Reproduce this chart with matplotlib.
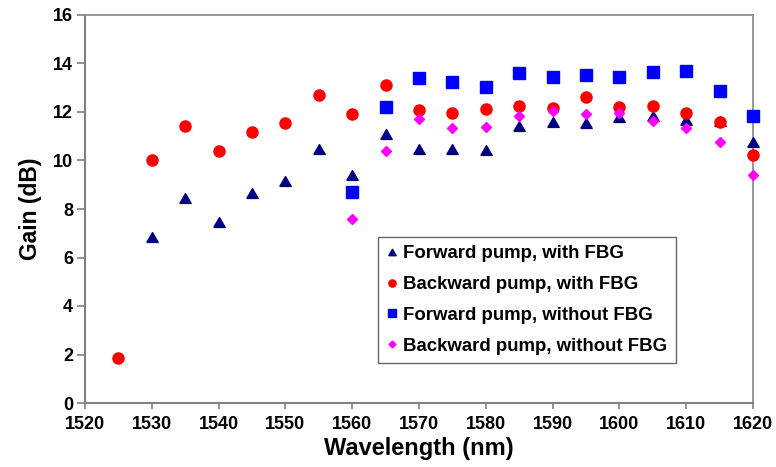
import matplotlib
matplotlib.use("Agg")
import matplotlib.pyplot as plt

plt.rcParams['font.family'] = ['Liberation Sans', 'DejaVu Sans']
plt.rcParams['font.weight'] = 'bold'

wl_fwd_fbg = [1530, 1535, 1540, 1545, 1550, 1555, 1560, 1565, 1570, 1575, 1580,
              1585, 1590, 1595, 1600, 1605, 1610, 1615, 1620]
gain_fwd_fbg = [6.85, 8.44, 7.48, 8.67, 9.15, 10.47, 9.40, 11.08, 10.47, 10.47, 10.43,
                11.42, 11.60, 11.56, 11.81, 11.85, 11.67, 11.64, 10.78]

wl_bwd_fbg = [1525, 1530, 1535, 1540, 1545, 1550, 1555, 1560, 1565, 1570, 1575, 1580,
              1585, 1590, 1595, 1600, 1605, 1610, 1615, 1620]
gain_bwd_fbg = [1.87, 10.02, 11.42, 10.39, 11.16, 11.55, 12.69, 11.93, 13.13, 12.08, 11.97, 12.14,
                12.23, 12.15, 12.62, 12.21, 12.26, 11.95, 11.59, 10.24]

wl_nofbg = [1560, 1565, 1570, 1575, 1580, 1585, 1590, 1595, 1600, 1605, 1610, 1615, 1620]
gain_fwd_nofbg = [8.69, 12.22, 13.39, 13.25, 13.03, 13.60, 13.43, 13.51, 13.44, 13.66, 13.69, 12.88, 11.82]
gain_bwd_nofbg = [7.60, 10.39, 11.71, 11.35, 11.40, 11.84, 12.04, 11.90, 11.95, 11.63, 11.33, 10.75, 9.39]

labels = ["Forward pump, with FBG", "Backward pump, with FBG",
          "Forward pump, without FBG", "Backward pump, without FBG"]

tri = [(-1, -0.866), (1, -0.866), (0, 0.866), (-1, -0.866)]

fig = plt.figure(figsize=(7.76, 4.67), dpi=100)
ax = fig.add_axes([85/776, 64/467, 668/776, 388/467])

common = dict(linestyle='none', clip_on=False, zorder=5, markeredgewidth=1)
ax.plot(wl_fwd_fbg, gain_fwd_fbg, marker=tri, color='#000080',
        markersize=8.2, label=labels[0], **common)
ax.plot(wl_bwd_fbg, gain_bwd_fbg, marker='o', color='#ff0000',
        markersize=8, label=labels[1], **common)
ax.plot(wl_nofbg, gain_fwd_nofbg, marker='s', color='#0000ff',
        markersize=8, label=labels[2], **common)
ax.plot(wl_nofbg, gain_bwd_nofbg, marker='D', color='#ff00ff',
        markersize=5.4, label=labels[3], **common)

ax.set_xlim(1520, 1620)
ax.set_ylim(0, 16)
ax.set_xticks(range(1520, 1621, 10))
ax.set_yticks(range(0, 17, 2))
ax.tick_params(axis='both', labelsize=13, direction='out', width=1.2,
               color='#808080')
ax.tick_params(axis='x', length=4.5, pad=5)
ax.tick_params(axis='y', length=5.5, pad=3)
for s in ['top', 'right']:
    ax.spines[s].set_color('#909090')
    ax.spines[s].set_linewidth(1.3)
for s in ['left', 'bottom']:
    ax.spines[s].set_color('#808080')
    ax.spines[s].set_linewidth(1.5)

ax.set_xlabel("Wavelength (nm)", fontsize=17, fontweight='bold', labelpad=3)
ax.set_ylabel("Gain (dB)", fontsize=16.5, fontweight='bold', labelpad=8)

leg = ax.legend(loc='upper left', bbox_to_anchor=((378-85)/668, (403-237)/388),
                borderaxespad=0, frameon=True, fancybox=False, markerscale=0.65,
                handlelength=0.6, handletextpad=0.3, labelspacing=0.74, borderpad=0.45,
                prop={'size': 13.4, 'weight': 'bold'})
leg.get_frame().set_edgecolor('#404040')
leg.get_frame().set_linewidth(1.0)
leg.set_zorder(6)

fig.savefig("out.png", dpi=100)
